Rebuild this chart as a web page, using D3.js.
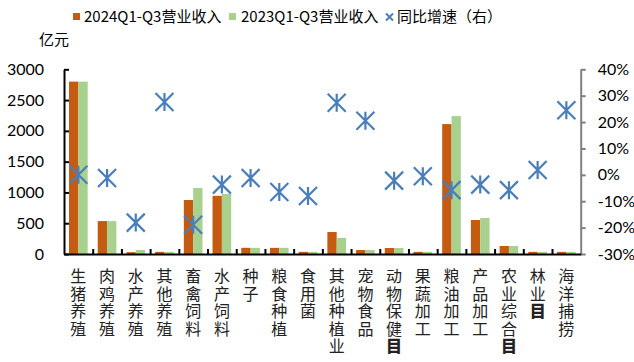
<!DOCTYPE html>
<html>
<head>
<meta charset="utf-8">
<script src="https://cdn.jsdelivr.net/npm/d3@7/dist/d3.min.js"></script>
<style>
  html, body { margin: 0; padding: 0; background: #fff; }
  svg { display: block; }
  .vlabel { writing-mode: vertical-rl; text-orientation: upright; }
</style>
</head>
<body>
<div id="chart"></div>
<script>
// Categories (each label is written vertically)
const categories = ["生猪养殖", "肉鸡养殖", "水产养殖", "其他养殖", "畜禽饲料", "水产饲料", "种子", "粮食种植", "食用菌",
  "其他种植业", "宠物食品", "动物保健目", "果蔬加工", "粮油加工", "产品加工", "农业综合目", "林业目", "海洋捕捞"];
// Revenue, 100 million yuan
const revenue2024 = [2800, 535, 30, 35, 877, 945, 100, 100, 35, 357, 65, 97, 35, 2110, 552, 130, 35, 35];
const revenue2023 = [2800, 535, 65, 35, 1072, 975, 100, 100, 35, 262, 65, 97, 35, 2240, 585, 130, 35, 35];
// Year-on-year growth (right axis), percent
const growth = [0.0, -1.2, -18.1, 27.6, -18.9, -3.7, -1.2, -6.5, -8.0, 27.3, 20.5, -2.2, -0.5, -5.8, -3.7, -5.8, 1.8, 24.5];
const leftTicks = [0, 500, 1000, 1500, 2000, 2500, 3000];
const rightTicks = [-30, -20, -10, 0, 10, 20, 30, 40];
const seriesNames = ["2024Q1-Q3营业收入", "2023Q1-Q3营业收入", "同比增速（右）"];

const W = 634, H = 362;
const plot = { left: 64, right: 580.7, top: 69.3, bottom: 254 };
const colors = { y2024: "#C55A11", y2023: "#A9D18E", growth: "#4A7EBB" };
const latin = "Lato, 'Noto Sans', sans-serif";
const cjk = "'Noto Sans CJK SC', sans-serif";

const svg = d3.select("#chart").append("svg").attr("width", W).attr("height", H);

const x = d3.scaleBand().domain(categories).range([plot.left, plot.right]).paddingInner(0).paddingOuter(0);
const bw = x.bandwidth();
const xs = d3.scaleBand().domain(["y2024", "y2023"]).range([bw * 0.175, bw * 0.825]).padding(0);
const y = d3.scaleLinear().domain([0, 3000]).range([plot.bottom, plot.top]);
const y2 = d3.scaleLinear().domain([-30, 40]).range([plot.bottom, plot.top]);

// Bars
const rows = categories.map((c, i) => ({ c, y2024: revenue2024[i], y2023: revenue2023[i], g: growth[i] }));
const grp = svg.append("g").selectAll("g").data(rows).join("g")
  .attr("transform", d => `translate(${x(d.c)},0)`);
grp.selectAll("rect").data(d => ["y2024", "y2023"].map(k => ({ k, v: d[k] }))).join("rect")
  .attr("x", d => xs(d.k))
  .attr("width", xs.bandwidth())
  .attr("y", d => y(d.v))
  .attr("height", d => y(0) - y(d.v))
  .attr("fill", d => colors[d.k]);

// Left axis
const gl = svg.append("g").attr("transform", `translate(${plot.left},0)`)
  .call(d3.axisLeft(y).tickValues(leftTicks).tickSize(-5).tickSizeOuter(0).tickPadding(20).tickFormat(d3.format("d")));
gl.select(".domain").attr("stroke", "#000").attr("stroke-width", 2);
gl.selectAll(".tick line").attr("stroke", "#000").attr("stroke-width", 2);
gl.selectAll(".tick text").attr("font-family", latin).attr("font-size", 16).attr("fill", "#000");

// Right axis
const gr = svg.append("g").attr("transform", `translate(${plot.right},0)`)
  .call(d3.axisRight(y2).tickValues(rightTicks).tickSize(5).tickSizeOuter(0).tickPadding(12).tickFormat(d => d + "%"));
gr.select(".domain").attr("stroke", "#808080").attr("stroke-width", 2);
gr.selectAll(".tick line").attr("stroke", "#808080").attr("stroke-width", 2);
gr.selectAll(".tick text").attr("font-family", latin).attr("font-size", 16).attr("fill", "#000");

// Bottom axis with ticks on category boundaries
const xb = d3.scaleLinear().domain([0, categories.length]).range([plot.left, plot.right]);
const gb = svg.append("g").attr("transform", `translate(0,${plot.bottom})`)
  .call(d3.axisBottom(xb).tickValues(d3.range(1, categories.length)).tickSize(-5).tickSizeOuter(0).tickFormat(""));
gb.select(".domain").attr("stroke", "#000").attr("stroke-width", 2);
gb.selectAll(".tick line").attr("stroke", "#000").attr("stroke-width", 2);

// Vertical category labels
const lab = svg.append("g").selectAll("text").data(categories).join("text")
  .attr("class", "vlabel")
  .attr("x", d => x(d) + bw / 2)
  .attr("y", 268)
  .attr("font-family", cjk)
  .attr("font-size", 16)
  .attr("letter-spacing", 1.6)
  .attr("fill", "#222");
lab.selectAll("tspan").data(d => {
  // the trailing 目 glyph is drawn heavier
  const m = d.match(/^(.*?)(目?)$/);
  return [{ t: m[1], b: false }, { t: m[2], b: true }].filter(p => p.t);
}).join("tspan")
  .attr("font-weight", p => p.b ? 900 : null)
  .text(p => p.t);

// Growth markers (star: X with vertical stroke)
const star = d3.path();
const r = 9;
star.moveTo(-r, -r); star.lineTo(r, r);
star.moveTo(-r, r); star.lineTo(r, -r);
star.moveTo(0, -r); star.lineTo(0, r);
svg.append("g").selectAll("path").data(rows).join("path")
  .attr("transform", d => `translate(${x(d.c) + bw / 2},${y2(d.g)})`)
  .attr("d", star.toString())
  .attr("fill", "none")
  .attr("stroke", colors.growth)
  .attr("stroke-width", 2.2);

// Unit label
svg.append("text").attr("x", 39).attr("y", 45).attr("font-family", cjk).attr("font-size", 15)
  .attr("fill", "#000").text("亿元");

// Legend
const lg = svg.append("g").attr("font-family", cjk).attr("font-size", 15).attr("fill", "#000");
lg.append("rect").attr("x", 73).attr("y", 13).attr("width", 7).attr("height", 7).attr("fill", colors.y2024);
lg.append("text").attr("x", 84).attr("y", 22).text(seriesNames[0]);
lg.append("rect").attr("x", 229).attr("y", 13).attr("width", 7).attr("height", 7).attr("fill", colors.y2023);
lg.append("text").attr("x", 241).attr("y", 22).text(seriesNames[1]);
const sx = 389.5, sy = 17, sr = 3.5;
lg.append("path")
  .attr("d", `M${sx - sr},${sy - sr}L${sx + sr},${sy + sr}M${sx - sr},${sy + sr}L${sx + sr},${sy - sr}`)
  .attr("stroke", colors.growth).attr("stroke-width", 2).attr("fill", "none");
lg.append("text").attr("x", 397).attr("y", 22).text(seriesNames[2]);
</script>
</body>
</html>
